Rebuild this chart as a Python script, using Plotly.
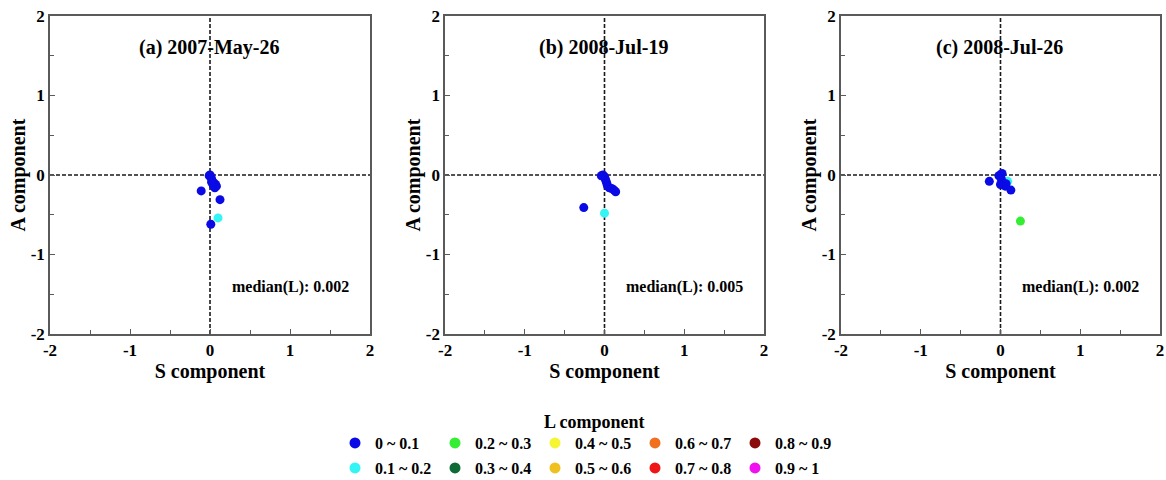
import plotly.graph_objects as go

# ---------------- data ----------------
panel_titles = ["(a) 2007-May-26", "(b) 2008-Jul-19", "(c) 2008-Jul-26"]
median_labels = ["median(L): 0.002", "median(L): 0.005", "median(L): 0.002"]

S_a = [0.00, 0.01, -0.01, 0.02, 0.03, 0.05, 0.07, 0.08, 0.06, 0.04, 0.02, -0.11, 0.125, 0.01, 0.10]
A_a = [0.00, -0.02, -0.01, -0.05, -0.08, -0.10, -0.12, -0.14, -0.16, -0.13, -0.09, -0.20, -0.31, -0.62, -0.54]
L_a = [0.001, 0.002, 0.001, 0.002, 0.003, 0.002, 0.004, 0.003, 0.002, 0.001, 0.002, 0.010, 0.020, 0.050, 0.150]

S_b = [-0.02, 0.00, 0.01, 0.02, 0.03, 0.04, 0.06, 0.09, 0.12, 0.14, -0.04, -0.26, 0.00]
A_b = [0.00, -0.02, -0.05, -0.08, -0.11, -0.14, -0.16, -0.17, -0.19, -0.21, -0.01, -0.41, -0.48]
L_b = [0.003, 0.005, 0.004, 0.006, 0.005, 0.007, 0.005, 0.004, 0.006, 0.008, 0.003, 0.030, 0.120]

S_c = [0.09, 0.00, -0.02, 0.02, 0.01, 0.03, 0.06, 0.00, -0.14, 0.13, 0.07, 0.25]
A_c = [-0.08, 0.00, -0.01, 0.02, -0.05, -0.10, -0.14, -0.12, -0.08, -0.19, -0.11, -0.58]
L_c = [0.110, 0.001, 0.002, 0.001, 0.003, 0.002, 0.004, 0.002, 0.010, 0.020, 0.003, 0.250]

bin_labels = ["0 ~ 0.1", "0.1 ~ 0.2", "0.2 ~ 0.3", "0.3 ~ 0.4", "0.4 ~ 0.5",
              "0.5 ~ 0.6", "0.6 ~ 0.7", "0.7 ~ 0.8", "0.8 ~ 0.9", "0.9 ~ 1"]
bin_colors = ["#0a0ae6", "#33f5f5", "#33ee33", "#0e6b35", "#f5f533",
              "#f0c020", "#f07020", "#f01515", "#8b0a0a", "#f010f0"]

axis_ticks = [-2, -1, 0, 1, 2]

panels = [(S_a, A_a, L_a), (S_b, A_b, L_b), (S_c, A_c, L_c)]

# ---------------- figure ----------------
FONT = "Liberation Serif, Times New Roman, serif"
domains = [[0.0, 0.2883], [0.3559, 0.6432], [0.7126, 1.0]]
PLOT_L, PLOT_W, PLOT_B, PLOT_H = 50, 1110, 334, 318

fig = go.Figure()

def bin_of(v):
    return min(int(v * 10), 9)

for p, (S, A, L) in enumerate(panels):
    xa = "x" if p == 0 else f"x{p+1}"
    ya = "y" if p == 0 else f"y{p+1}"
    # draw higher bins first so the dense low-L cluster lies on top
    for b in sorted(range(10), key=lambda k: 0 if k == 1 else 1):
        xs = [s for s, l in zip(S, L) if bin_of(l) == b]
        ys = [a for a, l in zip(A, L) if bin_of(l) == b]
        if not xs:
            continue
        fig.add_trace(go.Scatter(
            x=xs, y=ys, mode="markers", xaxis=xa, yaxis=ya,
            marker=dict(color=bin_colors[b], size=9, line=dict(width=0)),
            showlegend=False, hoverinfo="skip"))

# legend-only traces: row 1 (even bins), row 2 (odd bins)
for b in range(10):
    fig.add_trace(go.Scatter(
        x=[None], y=[None], mode="markers", name=bin_labels[b],
        marker=dict(color=bin_colors[b], size=11),
        legend="legend" if b % 2 == 0 else "legend2",
        showlegend=True))

legend_common = dict(
    orientation="h", xanchor="left", yanchor="middle",
    font=dict(family=FONT, size=16, color="black", weight="bold"),
    entrywidth=55, itemwidth=30, bgcolor="rgba(0,0,0,0)",
    tracegroupgap=0)

def px_x(px):
    return (px - PLOT_L) / PLOT_W

def px_y(py):
    return (PLOT_B - py) / PLOT_H

layout = dict(
    width=1166, height=480,
    margin=dict(l=50, r=6, t=16, b=146, autoexpand=False),
    plot_bgcolor="white", paper_bgcolor="white",
    font=dict(family=FONT, color="black"),
    legend=dict(x=px_x(335), y=px_y(443), **legend_common),
    legend2=dict(x=px_x(335), y=px_y(468), **legend_common),
)

annotations = []
shapes = []
for p in range(3):
    sfx = "" if p == 0 else str(p + 1)
    xa_name = "xaxis" + sfx
    ya_name = "yaxis" + sfx
    ax_common = dict(
        range=[-2, 2], tickvals=axis_ticks, ticktext=[str(t) for t in axis_ticks],
        showgrid=False, zeroline=False, showline=True, mirror=True,
        linecolor="#5a5a5a", linewidth=1.5,
        ticks="inside", ticklen=5, tickcolor="#5a5a5a", tickwidth=1,
        minor=dict(ticks="inside", ticklen=4, tickcolor="#5a5a5a", dtick=0.5, tick0=0),
        tickfont=dict(family=FONT, size=17, color="black", weight="bold"),
        automargin=False, fixedrange=True)
    layout[xa_name] = dict(
        domain=domains[p], anchor="y" + sfx,
        title=dict(text="S component", standoff=4,
                   font=dict(family=FONT, size=20, color="black", weight="bold")),
        **ax_common)
    layout[ya_name] = dict(
        domain=[0, 1], anchor="x" + sfx,
        title=dict(text="A component", standoff=0,
                   font=dict(family=FONT, size=20, color="black", weight="bold")),
        **ax_common)
    # dashed zero lines
    shapes.append(dict(type="line", xref="x" + sfx, yref="y" + sfx,
                       x0=0, x1=0, y0=-2, y1=2,
                       line=dict(color="#1a1a1a", width=1.6, dash="4px,2px"),
                       layer="below"))
    shapes.append(dict(type="line", xref="x" + sfx, yref="y" + sfx,
                       x0=-2, x1=2, y0=0, y1=0,
                       line=dict(color="#1a1a1a", width=1.6, dash="4px,2px"),
                       layer="below"))
    annotations.append(dict(x=-0.01, y=1.61, xref="x" + sfx, yref="y" + sfx,
                            text=panel_titles[p], showarrow=False,
                            font=dict(family=FONT, size=20, color="black", weight="bold")))
    annotations.append(dict(x=1.0, y=-1.41, xref="x" + sfx, yref="y" + sfx,
                            text=median_labels[p], showarrow=False,
                            font=dict(family=FONT, size=16, color="black", weight="bold")))

annotations.append(dict(x=px_x(594), y=px_y(422), xref="paper", yref="paper",
                        text="L component", showarrow=False, xanchor="center", yanchor="middle",
                        font=dict(family=FONT, size=18, color="black", weight="bold")))

layout["annotations"] = annotations
layout["shapes"] = shapes
fig.update_layout(**layout)

fig.write_html("out.html")
